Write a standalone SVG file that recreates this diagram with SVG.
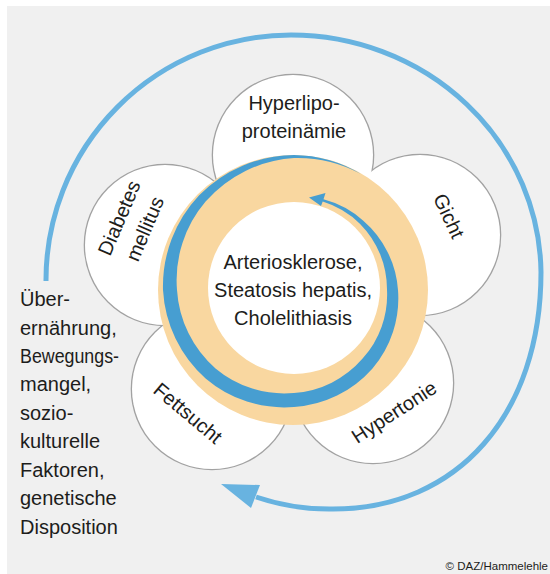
<svg xmlns="http://www.w3.org/2000/svg" xmlns:xlink="http://www.w3.org/1999/xlink" width="550" height="574" viewBox="0 0 550 574">
<style>
.outline{fill:none;stroke:#a2a2a2;stroke-width:2.6}
.pfill{fill:#ffffff}
.t{font-family:"Liberation Sans",Arial,sans-serif;font-size:20px;fill:#1d1d1b}
.c{text-anchor:middle}
.arc{fill:none;stroke:#68b3e0;stroke-width:5}
</style>
<defs>
<circle id="c1" cx="293" cy="155" r="80"/>
<circle id="c2" cx="420" cy="235" r="80"/>
<circle id="c3" cx="373" cy="383" r="80"/>
<circle id="c4" cx="212" cy="389" r="80"/>
<circle id="c5" cx="165" cy="245" r="80"/>
</defs>
<rect x="7" y="6" width="543" height="568" fill="#f0f0f0"/>
<g id="petal-outlines">
<use xlink:href="#c1" class="outline"/>
<use xlink:href="#c2" class="outline"/>
<use xlink:href="#c3" class="outline"/>
<use xlink:href="#c4" class="outline"/>
<use xlink:href="#c5" class="outline"/>
</g>
<g id="node-hyperlipoproteinaemie">
<use xlink:href="#c1" class="pfill"/>
<text class="t c" x="294" y="110">Hyperlipo-</text>
<text class="t c" x="294" y="138">proteinämie</text>
</g>
<g id="node-gicht">
<use xlink:href="#c2" class="pfill"/>
<text class="t c" transform="translate(449,216) rotate(65)" x="0" y="7">Gicht</text>
</g>
<g id="node-hypertonie">
<use xlink:href="#c3" class="pfill"/>
<text class="t c" transform="translate(394,412) rotate(-33)" x="0" y="7">Hypertonie</text>
</g>
<g id="node-fettsucht">
<use xlink:href="#c4" class="pfill"/>
<text class="t c" transform="translate(188,413) rotate(40)" x="0" y="7">Fettsucht</text>
</g>
<g id="node-diabetes">
<use xlink:href="#c5" class="pfill"/>
<g transform="translate(131,223) rotate(-67)">
<text class="t c" x="0" y="-6">Diabetes</text>
<text class="t c" x="0" y="22">mellitus</text>
</g>
</g>
<g id="node-center">
<circle cx="293" cy="290" r="135" fill="#f9d7a0"/>
<circle cx="294" cy="288" r="86" fill="#ffffff"/>
<text class="t c" x="293" y="269">Arteriosklerose,</text>
<text class="t c" x="293" y="297">Steatosis hepatis,</text>
<text class="t c" x="293" y="325">Cholelithiasis</text>
</g>
<g id="node-causes">
<text class="t" x="20" y="306">Über-</text>
<text class="t" x="20" y="335">ernährung,</text>
<text class="t" x="20" y="363" textLength="99" lengthAdjust="spacingAndGlyphs">Bewegungs-</text>
<text class="t" x="20" y="391">mangel,</text>
<text class="t" x="20" y="420">sozio-</text>
<text class="t" x="20" y="448">kulturelle</text>
<text class="t" x="20" y="477">Faktoren,</text>
<text class="t" x="20" y="505">genetische</text>
<text class="t" x="20" y="534">Disposition</text>
</g>
<g id="connectors">
<path fill="#479ed1" d="M 361 174 A 134 134 0 0 0 294 155 A 134.5 134.5 0 0 0 199.2 195.2 A 132.5 132.5 0 0 0 163 290 A 128 128 0 0 0 205.6 378.4 A 121 121 0 0 0 294 407 A 114 114 0 0 0 372.5 368.5 A 108 108 0 0 0 398 290 A 101 101 0 0 0 363.3 220.7 A 97 97 0 0 0 323.5 199.3 L 325.5 193 L 309 197.5 L 321 206 L 322.7 201.6 A 93 93 0 0 1 360.1 223.9 A 93 93 0 0 1 387 290 A 95 95 0 0 1 362.6 358.6 A 100 100 0 0 1 294 393 A 107 107 0 0 1 215.5 368.5 A 114 114 0 0 1 177 290 A 121 121 0 0 1 205.6 201.6 A 128.5 128.5 0 0 1 294 158 A 133 133 0 0 1 361 174 Z"/>
<path class="arc" d="M 46 281 A 245 245 0 0 1 291 35 A 250 240 0 0 1 541 272 C 541 414 458 509 333 509 A 230 230 0 0 1 256 497"/>
<polygon fill="#68b3e0" points="221,484 260,485 251,508"/>
</g>
<text x="548" y="570" text-anchor="end" style="font-family:'Liberation Sans',Arial,sans-serif;font-size:11.5px;fill:#1d1d1b">© DAZ/Hammelehle</text>
</svg>
